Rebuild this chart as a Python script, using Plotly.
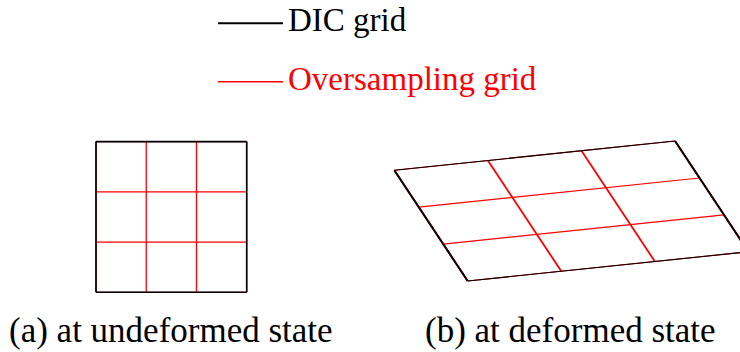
import numpy as np
import plotly.graph_objects as go

# ---- data: grid definitions (reference coordinates, in cell units) ----
dic_nodes = [0, 3]              # DIC grid: one element spanning 3 cells
over_nodes = [0, 1, 2, 3]       # oversampling grid: 3x3 sub-cells
# affine deformation map x = F @ X + t
F_def = [[1.863, -0.487],
         [0.194, 0.735]]
t_def = [7.40, 0.225]
legend_labels = ["DIC grid", "Oversampling grid"]
captions = ["(a) at undeformed state", "(b) at deformed state"]

W, H = 740, 352
PX = 50.23            # pixels per cell unit
X0, Y0 = 96.0, 292.3  # pixel position of undeformed origin

def to_units(px, py):
    return (px - X0) / PX, (Y0 - py) / PX

def grid_lines(nodes, F=None, t=None):
    F = np.eye(2) if F is None else np.array(F)
    t = np.zeros(2) if t is None else np.array(t)
    lo, hi = nodes[0], nodes[-1]
    xs_v, ys_v, xs_h, ys_h = [], [], [], []
    for n in nodes:
        a = F @ np.array([n, lo]) + t
        b = F @ np.array([n, hi]) + t
        xs_v += [float(a[0]), float(b[0]), None]; ys_v += [float(a[1]), float(b[1]), None]
        a = F @ np.array([lo, n]) + t
        b = F @ np.array([hi, n]) + t
        xs_h += [float(a[0]), float(b[0]), None]; ys_h += [float(a[1]), float(b[1]), None]
    return (xs_v, ys_v), (xs_h, ys_h)

RED = "red"
fig = go.Figure()

def add_grid(F, t, wv_red, wh_red, w_blk_v, w_blk_h):
    (vx, vy), (hx, hy) = grid_lines(over_nodes, F, t)
    fig.add_trace(go.Scatter(x=hx, y=hy, mode="lines", line=dict(color=RED, width=wh_red),
                             hoverinfo="skip", showlegend=False))
    fig.add_trace(go.Scatter(x=vx, y=vy, mode="lines", line=dict(color=RED, width=wv_red),
                             hoverinfo="skip", showlegend=False))
    (vx, vy), (hx, hy) = grid_lines(dic_nodes, F, t)
    fig.add_trace(go.Scatter(x=hx, y=hy, mode="lines", line=dict(color="black", width=w_blk_h),
                             hoverinfo="skip", showlegend=False))
    fig.add_trace(go.Scatter(x=vx, y=vy, mode="lines", line=dict(color="black", width=w_blk_v),
                             hoverinfo="skip", showlegend=False))

add_grid(None, None, 1.3, 1.3, 1.6, 1.6)
add_grid(F_def, t_def, 1.8, 1.1, 2.0, 1.1)

SERIF = "Times New Roman"

# legend (drawn manually as line samples + text)
leg_y = [23.3, 81.7]
leg_col = ["black", RED]
leg_w = [2.0, 1.6]
for lab, y, c, w in zip(legend_labels, leg_y, leg_col, leg_w):
    xa, ya = to_units(218, y)
    xb, yb = to_units(283, y)
    fig.add_trace(go.Scatter(x=[xa, xb], y=[ya, yb], mode="lines", line=dict(color=c, width=w),
                             hoverinfo="skip", showlegend=False))
    fig.add_annotation(text=lab, xref="paper", yref="paper", x=286 / W, y=1 - (y - 3) / H,
                       xanchor="left", yanchor="middle", showarrow=False,
                       font=dict(family=SERIF, size=33, color=c))

cap_x = [170.5, 570.5]
for cap, cx in zip(captions, cap_x):
    fig.add_annotation(text=cap, xref="paper", yref="paper", x=cx / W, y=1 - 330 / H,
                       xanchor="center", yanchor="middle", showarrow=False,
                       font=dict(family=SERIF, size=35, color="black"))

fig.update_layout(
    width=W, height=H, margin=dict(l=0, r=0, t=0, b=0),
    font=dict(family=SERIF),
    plot_bgcolor="white",
    xaxis=dict(range=[-X0 / PX, (W - X0) / PX], visible=False, fixedrange=True),
    yaxis=dict(range=[-(H - Y0) / PX, Y0 / PX], visible=False, fixedrange=True),
)
fig.write_html("out.html", config={"displayModeBar": False},
               post_script="document.body.style.margin='0';")
